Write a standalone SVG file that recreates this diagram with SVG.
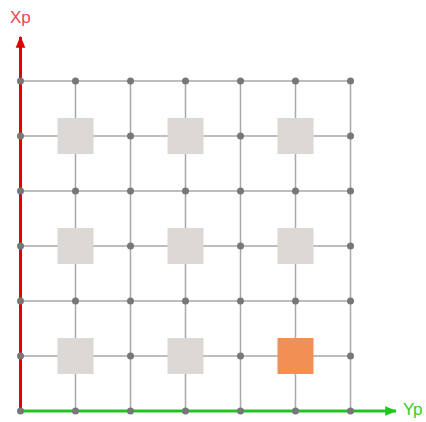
<svg xmlns="http://www.w3.org/2000/svg" width="426" height="422" viewBox="0 0 426 422">
<style>
.g{stroke:#a8a8a8;stroke-width:1.5;fill:none}
.d{fill:#777}
.s{fill:#dcd8d6}
.o{fill:#f28f55}
.lbl{font-family:"Liberation Sans",Arial,sans-serif;font-size:17px}
</style>
<defs>
<marker id="ar" viewBox="0 0 10 10" refX="9" refY="5" markerWidth="4" markerHeight="4" orient="auto" markerUnits="strokeWidth"><path d="M0,1 L10,5 L0,9 z" fill="#e00000"/></marker>
<marker id="ag" viewBox="0 0 10 10" refX="9" refY="5" markerWidth="4" markerHeight="4" orient="auto" markerUnits="strokeWidth"><path d="M0,1 L10,5 L0,9 z" fill="#22c422"/></marker>
</defs>
<rect width="426" height="422" fill="#fff"/>
<g id="grid">
<path class="g" d="M20.5,81H351M20.5,136H351M20.5,191H351M20.5,246H351M20.5,301H351M20.5,356H351M20.5,411H351M20.5,81V411M75.5,81V411M130.5,81V411M185.5,81V411M240.5,81V411M295.5,81V411M350.5,81V411"/>
</g>
<g id="squares">
<rect class="s" x="57.5" y="118" width="36" height="36"/>
<rect class="s" x="167.5" y="118" width="36" height="36"/>
<rect class="s" x="277.5" y="118" width="36" height="36"/>
<rect class="s" x="57.5" y="228" width="36" height="36"/>
<rect class="s" x="167.5" y="228" width="36" height="36"/>
<rect class="s" x="277.5" y="228" width="36" height="36"/>
<rect class="s" x="57.5" y="338" width="36" height="36"/>
<rect class="s" x="167.5" y="338" width="36" height="36"/>
<rect class="o" x="277.5" y="338" width="36" height="36"/>
</g>
<g id="axes">
<line x1="20.5" y1="411" x2="20.5" y2="37" stroke="#e00000" stroke-width="3" marker-end="url(#ar)"/>
<line x1="20.5" y1="411" x2="396" y2="411" stroke="#22c422" stroke-width="3" marker-end="url(#ag)"/>
</g>
<g id="dots">
<g class="d">
<circle cx="20.5" cy="81" r="3.5"/><circle cx="75.5" cy="81" r="3.5"/><circle cx="130.5" cy="81" r="3.5"/><circle cx="185.5" cy="81" r="3.5"/><circle cx="240.5" cy="81" r="3.5"/><circle cx="295.5" cy="81" r="3.5"/><circle cx="350.5" cy="81" r="3.5"/>
<circle cx="20.5" cy="136" r="3.5"/><circle cx="130.5" cy="136" r="3.5"/><circle cx="240.5" cy="136" r="3.5"/><circle cx="350.5" cy="136" r="3.5"/>
<circle cx="20.5" cy="191" r="3.5"/><circle cx="75.5" cy="191" r="3.5"/><circle cx="130.5" cy="191" r="3.5"/><circle cx="185.5" cy="191" r="3.5"/><circle cx="240.5" cy="191" r="3.5"/><circle cx="295.5" cy="191" r="3.5"/><circle cx="350.5" cy="191" r="3.5"/>
<circle cx="20.5" cy="246" r="3.5"/><circle cx="130.5" cy="246" r="3.5"/><circle cx="240.5" cy="246" r="3.5"/><circle cx="350.5" cy="246" r="3.5"/>
<circle cx="20.5" cy="301" r="3.5"/><circle cx="75.5" cy="301" r="3.5"/><circle cx="130.5" cy="301" r="3.5"/><circle cx="185.5" cy="301" r="3.5"/><circle cx="240.5" cy="301" r="3.5"/><circle cx="295.5" cy="301" r="3.5"/><circle cx="350.5" cy="301" r="3.5"/>
<circle cx="20.5" cy="356" r="3.5"/><circle cx="130.5" cy="356" r="3.5"/><circle cx="240.5" cy="356" r="3.5"/><circle cx="350.5" cy="356" r="3.5"/>
<circle cx="20.5" cy="411" r="3.5"/><circle cx="75.5" cy="411" r="3.5"/><circle cx="130.5" cy="411" r="3.5"/><circle cx="185.5" cy="411" r="3.5"/><circle cx="240.5" cy="411" r="3.5"/><circle cx="295.5" cy="411" r="3.5"/><circle cx="350.5" cy="411" r="3.5"/>
</g>
</g>
<g id="labels">
<text class="lbl" x="10" y="22.5" fill="#e8474f">Xp</text>
<text class="lbl" x="403" y="415" fill="#33cc33">Yp</text>
</g>
</svg>
